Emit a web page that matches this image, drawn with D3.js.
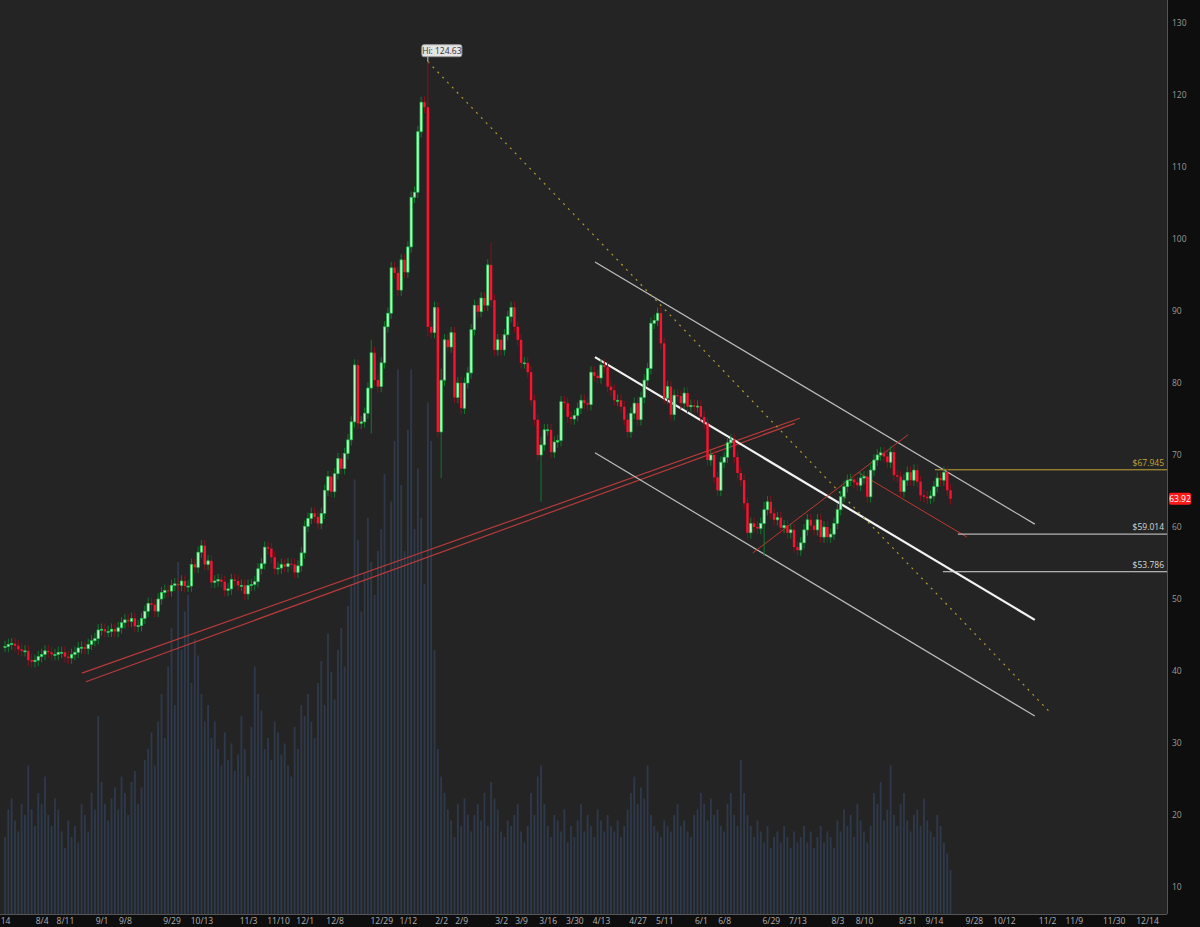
<!DOCTYPE html>
<html><head><meta charset="utf-8">
<script src="https://cdn.jsdelivr.net/npm/d3@7/dist/d3.min.js"></script>
<style>body{margin:0;background:#0e0e0e;}svg{display:block;font-family:"Open Sans",sans-serif;}</style>
</head><body><svg id="c" width="1200" height="927"></svg>
<script>
const closes = [
43.4,43.7,43.8,43.5,43,42.8,42.8,41.5,41.3,41.5,
42,42.3,42.8,42.6,42.3,42.3,42.6,42.6,42,41.8,
42.3,42.6,43.2,43.3,43.1,43.7,44.2,44.5,45.7,45.8,
45.5,45.5,45.8,45.5,46,46.7,47.1,46.9,47.3,46.2,
46.3,47.3,48.3,49.4,49.2,48.3,50,50.9,51.2,51.1,
51.9,52.1,51.9,52.5,51.8,51.8,54.8,54.4,56.5,57.4,
54.8,55.3,52.3,52.5,52.7,52.4,51.2,51.4,52.7,52.5,
51.9,51.9,50.7,51.9,52,52.4,54.2,54.9,57.2,57,
55.8,54.2,54.3,54.8,54.5,54.9,54.8,53.7,54.6,56.4,
60.1,61.2,61.9,61.4,60.5,61.9,
65.1,67,64.9,67.4,69.5,68.1,70.2,72.1,74.6,82.5,
74.4,74.6,75.8,79.3,84.2,80.4,79.5,82.8,87.8,89.7,
96,95.3,92.9,97.1,95.4,98.9,105.8,106.5,114.9,119,
118.3,87.8,
87,90.5,73.2,80.4,86,85,87,78,80,76.5,
80,81.4,87.4,90.8,89.9,91.8,90.8,96.4,91.5,84.6,
86,84.6,86.7,89.2,90.5,87.8,86,82.8,82.8,81.5,
77.6,74.9,70,71.4,73.5,73.5,70.4,71.8,72,77.4,
77.2,75.3,75,75.5,76.5,77.6,77.2,77,81.5,81,
80.7,82.5,82.2,79.5,79,77.6,77.6,76.7,74.9,73.2,
75.8,77.2,74.9,78,80.4,82,88.3,88.7,89.7,85.5,
77.9,79.5,75.6,78.3,78.2,77.2,78.6,76.7,76.9,76.7,
76.8,75.3,74.4,69.3,70,66.9,65.1,69,69.7,71.7,
72.1,69.7,67.5,66.5,63.3,59.2,60.5,60,59.8,60.5,
62.4,63.5,61.9,61,61.3,59.9,60.2,59.2,59.6,57.2,
56.8,57.8,59.6,61,60.2,59.6,61,58.6,60,58.6,
59,60.5,62.4,64.2,65.6,66.5,66.6,66.2,65.8,66.8,
67,64.2,67.9,69.3,70,70.3,69.8,69,70.4,67.2,
67,64.9,66.5,67.6,66.5,67.9,66.3,64.4,64.2,64,
64.3,65.6,66.8,66.5,67.6,65.1,63.92];
const highLowOverrides = {127:[124.63,86.5],131:[82,66.8],146:[99.5,90.5],161:[72.5,63.5],110:[86,73],228:[63.5,56]};
const volumes = [
14,19,21,17,15,20,18,27,19,16,22,20,25,18,16,21,19,15,12,17,14,16,13,20,18,15,22,
19,36,24,20,
17,21,23,19,25,22,18,24,26,20,23,28,30,33,27,
35,40,32,45,52,38,64,48,55,58,42,50,47,40,35,
38,32,35,30,27,33,28,31,26,29,36,30,25,34,45,
40,37,30,32,28,35,33,29,31,27,25,34,30,38,36,
40,35,32,42,46,38,51,44,39,48,52,45,56,60,79,
68,55,62,72,64,58,66,70,80,62,75,86,99,78,66,
88,99,70,81,72,60,93,
86,48,30,25,22,19,17,14,20,16,21,18,15,
18,20,17,22,16,24,21,19,15,14,17,16,18,20,15,13,16,22,18,25,
27,20,16,14,18,17,15,19,13,16,14,17,20,15,18,16,14,19,17,15,
18,16,15,17,14,16,19,22,25,20,23,21,27,18,16,15,14,17,16,15,
18,20,16,17,15,14,18,19,22,20,17,21,18,19,16,15,20,22,18,16,
28,22,18,16,14,17,15,13,16,12,14,15,13,16,14,12,15,13,14,16,
13,15,12,14,16,13,15,14,12,17,15,19,16,18,14,20,17,15,13,16,
22,20,24,17,19,27,18,16,20,22,17,15,18,19,16,21,17,15,14,18,16,13,11,8];
const tickLabels = ["14","8/4","8/11","9/1","9/8","9/29","10/13","11/3","11/10","12/1","12/8","12/29","1/12","2/2","2/9","3/2","3/9","3/16","3/30","4/13","4/27","5/11","6/1","6/8","6/29","7/13","8/3","8/10","8/31","9/14","9/28","10/12","11/2","11/9","11/30","12/14"];
const tickIndex = [0,11,18,29,36,50,59,73,82,90,99,113,121,131,137,149,155,163,171,179,190,198,209,216,230,238,250,258,271,279,291,300,313,321,333,343];
const priceTicks = [10,20,30,40,50,60,70,80,90,100,110,120,130];
const channelUpper = [177.2,96.8,309.3,60.4];
const channelMid = [177.2,83.6,309.3,47.1];
const channelLower = [177.2,70.3,309.3,33.75];
const redTrend1 = [23.1,39.7,238.7,75.1];
const redTrend2 = [24.3,38.5,237.2,74.4];
const redUp = [224.6,56.4,271.2,72.8];
const redDown = [256.2,67.6,288.9,58.6];
const peakLine = [127,124.63,314.4,34.0];
const levels = [{p:67.945,from:279.3,c:"#c4a53a",lbl:"$67.945"},{p:59.014,from:286.2,c:"#d8d8d8",lbl:"$59.014"},{p:53.786,from:281.7,c:"#d8d8d8",lbl:"$53.786"}];
const lastPrice = 63.92;

const svg = d3.select("#c");
const W=1167, H=914;
const x = d3.scaleLinear().domain([0,343]).range([5,1147]);
const y = d3.scaleLinear().domain([10,130]).range([887,23]);
const yv = d3.scaleLinear().domain([0,100]).range([H,H-550]);

svg.append("rect").attr("width",1200).attr("height",927).attr("fill","#0e0e0e");
svg.append("rect").attr("width",W).attr("height",H).attr("fill","#242424");
svg.append("clipPath").attr("id","clip").append("rect").attr("width",W).attr("height",H);
const g = svg.append("g").attr("clip-path","url(#clip)");

g.selectAll(".v").data(volumes).join("rect")
 .attr("x",(d,i)=>x(i)-0.9).attr("width",1.8).attr("y",d=>yv(d)).attr("height",d=>H-yv(d)).attr("fill","#2e3a4b");

const data = closes.map((c,i)=>{
  const o = i===0? c : closes[i-1];
  const ov = highLowOverrides[i];
  return {i,o,c,h: ov?ov[0]:Math.max(o,c)+0.8, l: ov?ov[1]:Math.min(o,c)-0.8};
});
function seg(a,color,w,dash){g.append("line").attr("x1",x(a[0])).attr("y1",y(a[1])).attr("x2",x(a[2])).attr("y2",y(a[3])).attr("stroke",color).attr("stroke-width",w).attr("stroke-dasharray",dash||null);}
seg(redTrend1,"#b83a3a",1.2); seg(redTrend2,"#b83a3a",1.2);
seg(channelUpper,"#bdbdbd",1.2); seg(channelLower,"#bdbdbd",1.2); seg(channelMid,"#f2f2f2",2.2);
seg(redUp,"#c0392b",1); seg(redDown,"#c0392b",1);
seg(peakLine,"#b59a2a",1.2,"2,5");
levels.forEach(l=>{
  g.append("line").attr("x1",x(l.from)).attr("x2",W).attr("y1",y(l.p)).attr("y2",y(l.p)).attr("stroke",l.c).attr("stroke-width",1);
  svg.append("text").attr("x",W-3).attr("y",y(l.p)-4).attr("text-anchor","end").attr("font-size",8.5).attr("fill",l.c).text(l.lbl);
});

const cg = g.append("g");
data.forEach(d=>{
  const up = d.c>=d.o;
  cg.append("line").attr("x1",x(d.i)).attr("x2",x(d.i)).attr("y1",y(d.h)).attr("y2",y(d.l))
    .attr("stroke",up?"#0f7a2c":"#8c0f1a").attr("stroke-width",1);
  const top=y(Math.max(d.o,d.c)), bot=y(Math.min(d.o,d.c));
  cg.append("rect").attr("x",x(d.i)-1.2).attr("width",2.4).attr("y",top).attr("height",Math.max(1,bot-top))
    .attr("fill",up?"#a8ffc0":"#ff1030").attr("stroke",up?"#1fbf4c":"none").attr("stroke-width",0.7);
});

const px = x(127), py = y(124.63);
const hb = svg.append("g");
hb.append("rect").attr("x",px-6).attr("y",py-17).attr("width",40).attr("height",12).attr("rx",2).attr("fill","#e4e4e4").attr("stroke","#999");
hb.append("text").attr("x",px+14).attr("y",py-8).attr("text-anchor","middle").attr("font-size",8.5).attr("fill","#333").text("Hi: 124.63");
hb.append("line").attr("x1",px).attr("y1",py-5).attr("x2",px).attr("y2",py).attr("stroke","#ccc");

svg.append("line").attr("x1",W+0.5).attr("x2",W+0.5).attr("y1",0).attr("y2",H).attr("stroke","#555");
svg.append("line").attr("x1",0).attr("x2",W).attr("y1",H+0.5).attr("y2",H+0.5).attr("stroke","#555");
const ya = svg.append("g").attr("transform",`translate(${W},0)`).call(d3.axisRight(y).tickValues(priceTicks).tickSize(0).tickPadding(5));
ya.select(".domain").remove();
ya.selectAll("text").attr("fill","#9a9a9a").attr("font-size",8.5).attr("font-family","Open Sans");
const xa = svg.append("g").attr("transform",`translate(0,${H})`).call(d3.axisBottom(x).tickValues(tickIndex).tickFormat((d,i)=>tickLabels[i]).tickSize(0).tickPadding(4));
xa.select(".domain").remove();
xa.selectAll("text").attr("fill","#b0b0b0").attr("font-size",8.5).attr("font-family","Open Sans");

svg.append("rect").attr("x",W+2).attr("y",y(lastPrice)-6).attr("width",22).attr("height",12).attr("rx",2).attr("fill","#ff1a1a");
svg.append("text").attr("x",W+13).attr("y",y(lastPrice)+3).attr("text-anchor","middle").attr("font-size",8.5).attr("fill","#fff").text(lastPrice.toFixed(2));
</script></body></html>
